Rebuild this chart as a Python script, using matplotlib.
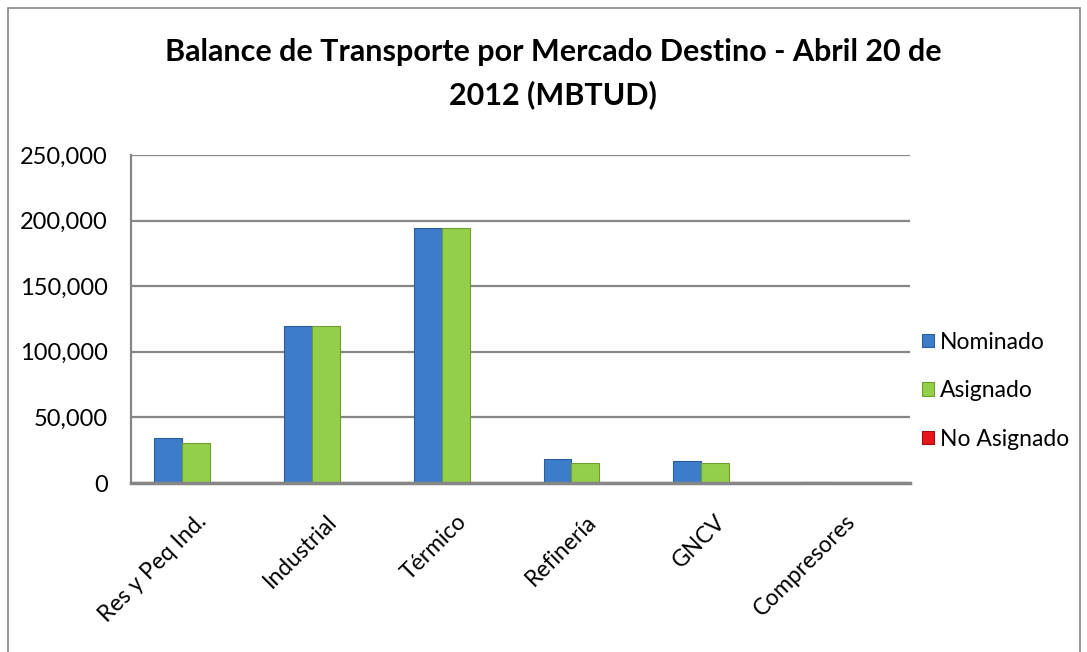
import matplotlib
matplotlib.use("Agg")
import matplotlib.pyplot as plt
from matplotlib.patches import Rectangle
import numpy as np

categories = ["Res y Peq Ind.", "Industrial", "Térmico", "Refinería", "GNCV", "Compresores"]
nominado = [34300, 119700, 194400, 18300, 16800, 1000]
asignado = [30500, 119500, 194200, 15500, 15200, 300]
no_asignado = [0, 0, 0, 0, 0, 0]
series_names = ["Nominado", "Asignado", "No Asignado"]
yticks = [0, 50000, 100000, 150000, 200000, 250000]

W, H = 1087, 652
fig = plt.figure(figsize=(W / 100, H / 100), dpi=100)
plt.rcParams['font.family'] = ['Lato', 'DejaVu Sans']

# outer chart border
fig.patches.append(Rectangle((8 / W, -0.05), (1080 - 8) / W, 1.05 - 8 / H, transform=fig.transFigure,
                             fill=False, edgecolor='#868686', linewidth=1.2))

ax = fig.add_axes([131 / W, 1 - 483 / H, (910 - 131) / W, (483 - 155) / H])
x = np.arange(len(categories))
bw = 0.215
cols = ['#3d7cc9', '#94cf4a', '#e8141b']
edges = ['#2a5d9c', '#6e9e30', '#a00d12']
for i, (vals, c, e, n) in enumerate(zip([nominado, asignado, no_asignado], cols, edges, series_names)):
    ax.bar(x + (i - 1) * bw, vals, bw, color=c, edgecolor=e, linewidth=0.8, label=n, zorder=3)

ax.set_xlim(-0.5, len(categories) - 0.5)
ax.set_ylim(0, 250000)
ax.set_yticks(yticks)
ax.set_yticklabels([f"{v:,}" for v in yticks], fontsize=17)
ax.yaxis.grid(True, color='#868686', linewidth=1.6, zorder=0)
ax.set_axisbelow(True)
ax.set_xticks(x)
ax.set_xticklabels(categories, rotation=45, ha='right', rotation_mode='anchor', fontsize=16.5)
ax.tick_params(axis='y', length=0, pad=16.5)
ax.tick_params(axis='x', length=0, pad=20)
for s in ['top', 'right']:
    ax.spines[s].set_visible(False)
ax.spines['left'].set_color('#868686')
ax.spines['left'].set_linewidth(1.6)
ax.spines['bottom'].set_color('#868686')
ax.spines['bottom'].set_linewidth(2.5)
ax.spines['bottom'].set_zorder(4)

fig.text(553 / W, 1 - 52 / H, "Balance de Transporte por Mercado Destino - Abril 20 de",
         ha='center', va='center', fontsize=22, fontweight='bold')
fig.text(553 / W, 1 - 95 / H, "2012 (MBTUD)", ha='center', va='center', fontsize=22, fontweight='bold')

leg = fig.legend(loc='upper left', bbox_to_anchor=(901 / W, 1 - 311 / H), frameon=False,
                 fontsize=16.5, handlelength=0.55, handleheight=0.55, handletextpad=0.25, labelspacing=1.2)

fig.savefig("out.png", dpi=100)
